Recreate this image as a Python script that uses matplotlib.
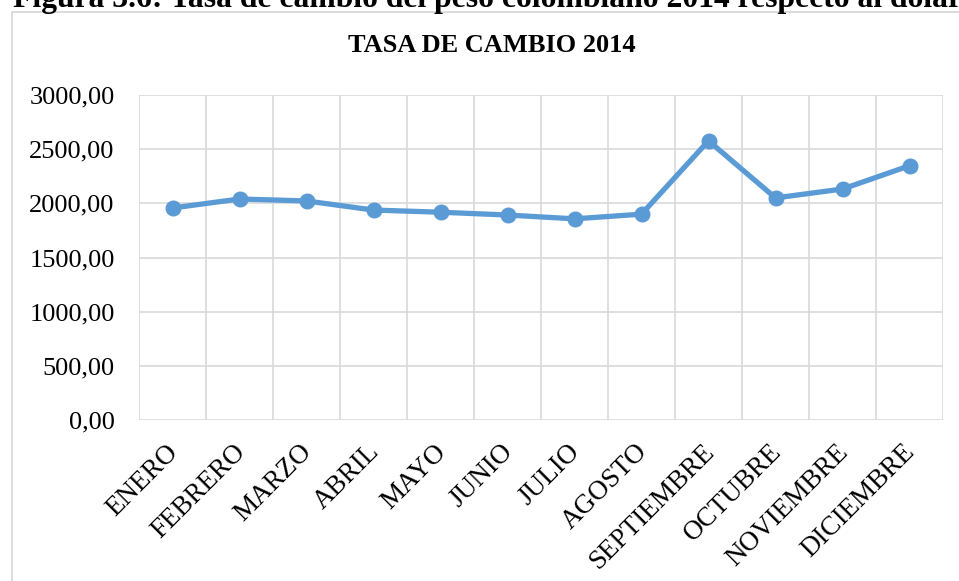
import matplotlib
matplotlib.use("Agg")
import matplotlib.pyplot as plt
import matplotlib.transforms as mtransforms
from matplotlib.patches import Rectangle
from matplotlib.ticker import FuncFormatter, MultipleLocator

### data
meses = ["ENERO", "FEBRERO", "MARZO", "ABRIL", "MAYO", "JUNIO", "JULIO",
         "AGOSTO", "SEPTIEMBRE", "OCTUBRE", "NOVIEMBRE", "DICIEMBRE"]
tasa = [1957, 2040, 2022, 1938, 1918, 1892, 1857, 1900, 2577, 2050, 2132, 2347]
y_ticks = [0, 500, 1000, 1500, 2000, 2500, 3000]

serif = "Liberation Serif"
grid_col = "#D9D9D9"
line_col = "#5B9BD5"

fig = plt.figure(figsize=(9.59, 5.81), dpi=100)

# caption of the figure, cut at the top like in the document
fig.text(13 / 959, 1 - 7 / 581,
         "Figura 3.6: Tasa de cambio del peso colombiano 2014 respecto al dolar",
         family=serif, weight="bold", fontsize=22.8, ha="left", va="baseline")

# chart frame (Excel style), running off the right and bottom edge
fig.patches.append(Rectangle((12 / 959, -0.1), 1.2, 1.1 - 12 / 581,
                             transform=fig.transFigure, fill=False,
                             edgecolor=grid_col, linewidth=1.3))

ax = fig.add_axes([139 / 959, 1 - 420 / 581, (943 - 139) / 959, (420 - 95) / 581])
x = list(range(len(meses)))
ax.plot(x, tasa, color=line_col, linewidth=3.8, marker="o", markersize=10.5,
        solid_capstyle="round", zorder=3)

ax.set_xlim(-0.5, len(meses) - 0.5)
ax.set_ylim(0, 3000)
ax.set_yticks(y_ticks)
ax.yaxis.set_major_formatter(FuncFormatter(lambda v, p: "{:.2f}".format(v).replace(".", ",")))
ax.set_xticks(x)
ax.set_xticklabels(meses, rotation=45, ha="right", rotation_mode="anchor")
ax.xaxis.set_minor_locator(MultipleLocator(1, offset=0.5))

ax.grid(axis="y", which="major", color=grid_col, linewidth=1.2)
ax.grid(axis="x", which="minor", color=grid_col, linewidth=1.2)
ax.set_axisbelow(True)
for s in ax.spines.values():
    s.set_visible(False)
ax.tick_params(axis="both", which="both", length=0)
ax.tick_params(axis="y", pad=17.5)
ax.tick_params(axis="x", pad=14)
for lab in ax.get_yticklabels():
    lab.set_fontfamily(serif)
    lab.set_fontsize(19)
shift = mtransforms.ScaledTranslation(-7 / 100, 0, fig.dpi_scale_trans)
for lab in ax.get_xticklabels():
    lab.set_fontfamily(serif)
    lab.set_fontsize(19.5)
    lab.set_transform(lab.get_transform() + shift)

fig.text(491.5 / 959, 1 - 45 / 581, "TASA DE CAMBIO 2014", family=serif,
         weight="bold", fontsize=19, ha="center", va="center")

fig.savefig("out.png", dpi=100)
